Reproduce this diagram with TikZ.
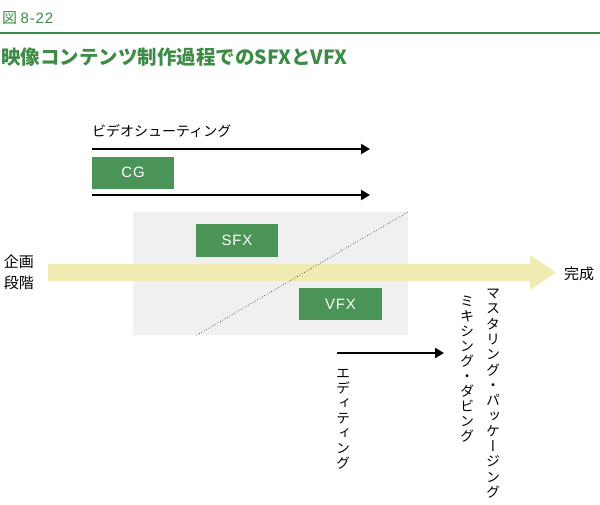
\documentclass[tikz,border=0pt]{standalone}
\usepackage{fontspec}
\setmainfont{Noto Sans CJK JP}
\newfontfamily\tatefont[RawFeature=+vert]{Noto Sans CJK JP}
\newfontfamily\boxfont[LetterSpace=6]{Liberation Sans}
\usetikzlibrary{arrows.meta}
\definecolor{leaf}{HTML}{3D8B46}
\definecolor{boxgreen}{HTML}{4A9457}
\definecolor{band}{HTML}{EFEBB3}
\definecolor{zone}{HTML}{F0F0F0}

\begin{document}
\begin{tikzpicture}[x=1pt,y=-1pt,>={Triangle[length=9pt,width=10pt]},
  every node/.style={font=\fontsize{14}{17}\selectfont,inner sep=0pt},
  gbox/.style={fill=boxgreen,text=white,minimum height=32pt,font=\boxfont\fontsize{15}{17}\selectfont},
  flow/.style={->,line width=2.5pt},
  tate/.style={font=\tatefont\fontsize{14}{15}\selectfont,align=center,anchor=north}]
\useasboundingbox (0,0) rectangle (600,504);
% heading
\node[anchor=west,text=leaf,font=\fontsize{15}{17}\selectfont] (fignum) at (2,18) {図 \boxfont 8-22};
\draw[leaf,line width=2.5pt] (0,33) -- (600,33);
\node[anchor=west,text=leaf,font=\bfseries\fontsize{19.5}{22}\selectfont] (title) at (1,57) {映像コンテンツ制作過程でのSFXとVFX};
% shooting
\node[anchor=west] (shoot) at (92,131) {ビデオシューティング};
\coordinate (s1) at (92,149);
\coordinate (e1) at (370,149);
\draw[flow] (s1) -- (e1);
\node[gbox,minimum width=82pt] (cg) at (133,172.5) {CG};
\coordinate (s2) at (92,195);
\coordinate (e2) at (370,195);
\draw[flow] (s2) -- (e2);
% SFX / VFX zone
\node[fill=zone,minimum width=275pt,minimum height=123pt] (mix) at (270.5,273.5) {};
\fill[band] (48,264) -- (530,264) -- (530,255) -- (556,272.5) -- (530,290) -- (530,281) -- (48,281) -- cycle;
\node[align=center,font=\fontsize{15}{21}\selectfont] (plan) at (19,272) {企画\\段階};
\node[anchor=west,font=\fontsize{15}{17}\selectfont] (done) at (564,274) {完成};
\node[gbox,minimum width=82pt,minimum height=33pt] (sfx) at (237,240.5) {SFX};
\node[gbox,minimum width=83pt] (vfx) at (340.5,304) {VFX};
\draw[dotted,black!80,line width=0.7pt] ([xshift=64pt]mix.south west) -- (mix.north east);
% editing and after
\coordinate (s3) at (337,353);
\coordinate (e3) at (444,353);
\draw[flow] (s3) -- (e3);
\node[tate] (edit) at (343,369) {エ\\デ\\ィ\\テ\\ィ\\ン\\グ};
\node[tate] (mixing) at (467,296) {ミ\\キ\\シ\\ン\\グ\\・\\ダ\\ビ\\ン\\グ};
\node[tate,font=\tatefont\fontsize{14}{15.3}\selectfont] (master) at (493,289) {マ\\ス\\タ\\リ\\ン\\グ\\・\\パ\\ッ\\ケ\\ー\\ジ\\ン\\グ};
\end{tikzpicture}
\end{document}
